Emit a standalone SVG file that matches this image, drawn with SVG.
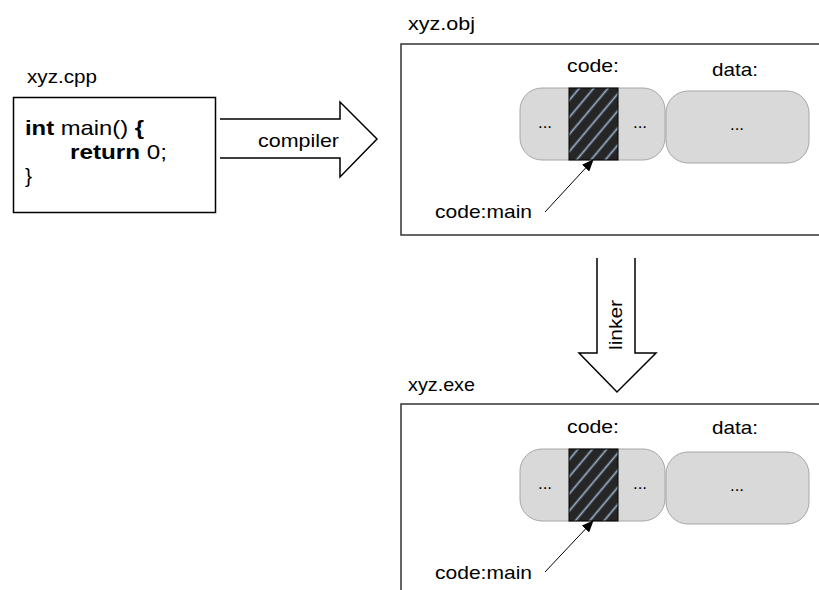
<svg xmlns="http://www.w3.org/2000/svg" width="819" height="590" viewBox="0 0 819 590">
  <style>
    text { font-family: "Liberation Sans", Arial, sans-serif; fill: #000; }
    .lbl { font-size: 19px; }
    .code { font-size: 21px; }
    .b { font-weight: bold; }
    .dots { font-size: 17px; text-anchor: middle; }
    .frame { fill: none; stroke: #333; stroke-width: 1.5; }
    .pill { fill: #d9d9d9; stroke: #a6a6a6; stroke-width: 1; }
    .sym { fill: url(#hatch); stroke: #000; stroke-width: 1; }
    .bigarrow { fill: #fff; stroke: #000; stroke-width: 1.5; stroke-linejoin: miter; }
    .ptr { stroke: #000; stroke-width: 1; fill: none; marker-end: url(#tip); }
  </style>
  <defs>
    <linearGradient id="glow" x1="0" y1="0" x2="1" y2="0">
      <stop offset="0" stop-color="#262626"/>
      <stop offset="0.5" stop-color="#9ab0cc"/>
      <stop offset="1" stop-color="#262626"/>
    </linearGradient>
    <pattern id="hatch" patternUnits="userSpaceOnUse" width="11" height="11" patternTransform="rotate(40)">
      <rect width="11" height="11" fill="#262626"/>
      <rect x="4" width="3" height="11" fill="url(#glow)"/>
    </pattern>
    <marker id="tip" markerWidth="12" markerHeight="10" refX="11" refY="5" orient="auto" markerUnits="userSpaceOnUse">
      <path d="M0,0 L12,5 L0,10 Z" fill="#000"/>
    </marker>
  </defs>

  <!-- source file -->
  <g id="cpp">
    <text class="lbl" x="27" y="83" textLength="70" lengthAdjust="spacingAndGlyphs">xyz.cpp</text>
    <rect x="13.5" y="97.5" width="202" height="115" fill="#fff" stroke="#000" stroke-width="1.5"/>
    <text class="code" x="25" y="135" textLength="119" lengthAdjust="spacingAndGlyphs"><tspan class="b">int</tspan> main() <tspan class="b">{</tspan></text>
    <text class="code" x="70" y="159" textLength="97" lengthAdjust="spacingAndGlyphs"><tspan class="b">return</tspan> 0;</text>
    <text class="code" x="25" y="183">}</text>
  </g>

  <!-- object file -->
  <g id="obj">
    <text class="lbl" x="408" y="30" textLength="67" lengthAdjust="spacingAndGlyphs">xyz.obj</text>
    <path class="frame" d="M819,44 H401 V235 H819"/>
    <text class="lbl" x="567" y="72" textLength="52" lengthAdjust="spacingAndGlyphs">code:</text>
    <text class="lbl" x="712" y="76" textLength="46" lengthAdjust="spacingAndGlyphs">data:</text>
    <rect class="pill" x="520" y="88" width="145" height="72" rx="22"/>
    <rect class="pill" x="666" y="91" width="143" height="72" rx="22"/>
    <rect class="sym" x="569" y="88" width="49" height="72"/>
    <text class="dots" x="545" y="128">...</text>
    <text class="dots" x="640" y="128">...</text>
    <text class="dots" x="737" y="130">...</text>
    <text class="lbl" x="435" y="218" textLength="97" lengthAdjust="spacingAndGlyphs">code:main</text>
  </g>

  <!-- executable -->
  <g id="exe">
    <text class="lbl" x="408" y="391" textLength="67" lengthAdjust="spacingAndGlyphs">xyz.exe</text>
    <path class="frame" d="M819,404 H401 V590"/>
    <text class="lbl" x="567" y="433" textLength="52" lengthAdjust="spacingAndGlyphs">code:</text>
    <text class="lbl" x="712" y="434" textLength="46" lengthAdjust="spacingAndGlyphs">data:</text>
    <rect class="pill" x="520" y="449" width="145" height="72" rx="22"/>
    <rect class="pill" x="666" y="452" width="143" height="72" rx="22"/>
    <rect class="sym" x="569" y="449" width="49" height="72"/>
    <text class="dots" x="545" y="489">...</text>
    <text class="dots" x="640" y="489">...</text>
    <text class="dots" x="737" y="491">...</text>
    <text class="lbl" x="435" y="579" textLength="97" lengthAdjust="spacingAndGlyphs">code:main</text>
  </g>

  <!-- connectors -->
  <g id="connectors">
    <path class="bigarrow" d="M220,119 H340 V102 L377,139 L340,177 V158 H220"/>
    <text class="lbl" x="258" y="147" textLength="81" lengthAdjust="spacingAndGlyphs">compiler</text>
    <path class="bigarrow" d="M597,258 V353 H579 L617,392 L656,353 H635 V258"/>
    <text class="lbl" transform="translate(622,325) rotate(-90)" text-anchor="middle" textLength="50" lengthAdjust="spacingAndGlyphs">linker</text>
    <line class="ptr" x1="545" y1="212" x2="593" y2="160"/>
    <line class="ptr" x1="545" y1="572" x2="593" y2="521"/>
  </g>
</svg>
